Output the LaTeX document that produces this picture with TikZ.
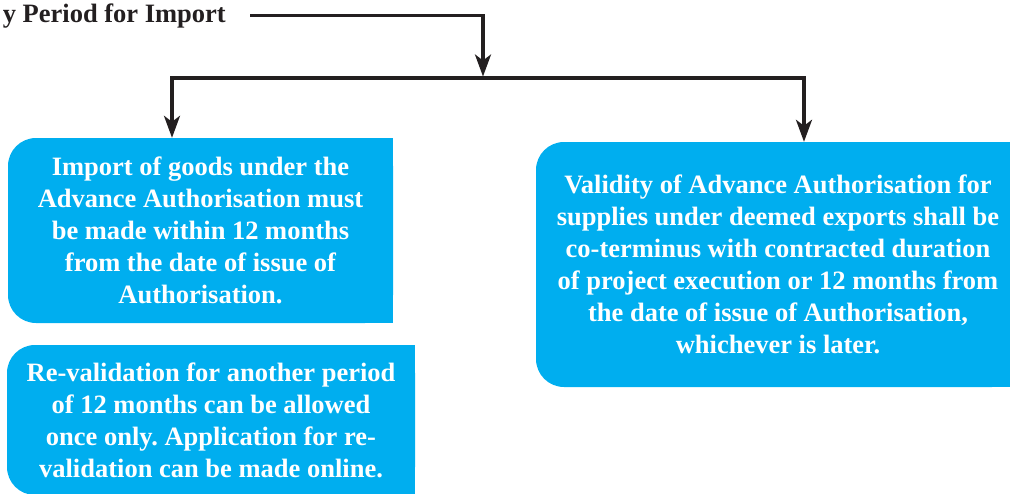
\documentclass[tikz,border=0pt]{standalone}
\usepackage{fontspec}
\setmainfont{Liberation Serif}
\usetikzlibrary{arrows.meta,backgrounds}
\definecolor{boxblue}{RGB}{0,174,239}
\definecolor{inkline}{RGB}{35,31,32}
\frenchspacing
\tikzset{
  infobox/.style={fill=boxblue, text=white, align=center, inner sep=0pt,
    font=\bfseries\fontsize{26.5}{32}\selectfont, rounded corners=28pt},
  titletext/.style={inner sep=0pt, text=inkline, font=\bfseries\fontsize{26.5}{30}\selectfont},
  flowline/.style={draw=inkline, line width=3.2pt,
    -{Stealth[length=22pt, width=16pt, inset=6pt, fill=inkline]}}
}
\begin{document}
\begin{tikzpicture}[x=1pt, y=-1pt]
            \useasboundingbox (0,0) rectangle (1010,493);
            % Titel
            \node[titletext, anchor=base east] (ttl) at (226,22) {y Period for Import};
            % Kaesten
            \node[infobox, minimum width=385pt, minimum height=185pt] (imp) at (200.5,230.5)
              {Import of goods under the\\Advance Authorisation must\\be made within 12 months\\from the date of issue of\\Authorisation.};
            \node[infobox, minimum width=408pt, minimum height=150pt] (reval) at (211,420)
              {Re-validation for another period\\of 12 months can be allowed\\once only. Application for re-\\validation can be made online.};
            \node[infobox, minimum width=484pt, minimum height=245pt] (val) at (778,264.5)
              {Validity of Advance Authorisation for\\supplies under deemed exports shall be\\co-terminus with contracted duration\\of project execution or 12 months from\\the date of issue of Authorisation,\\whichever is later.};
            % rechte Ecken eckig
            \begin{scope}[on background layer]
              \fill[boxblue] (imp.north) rectangle (imp.south east);
              \fill[boxblue] (reval.north) rectangle (reval.south east);
              \fill[boxblue] (val.north) rectangle (val.south east);
            \end{scope}
            % Verbindungen
            \coordinate (split) at (483,78);
            \draw[flowline, shorten >=1.5pt] ([xshift=24pt]ttl.east) -| (split);
            \draw[flowline] (split) -| ([xshift=-28.5pt]imp.north);
            \draw[flowline] (split) -| ([xshift=26pt]val.north);
          \end{tikzpicture}
\end{document}
